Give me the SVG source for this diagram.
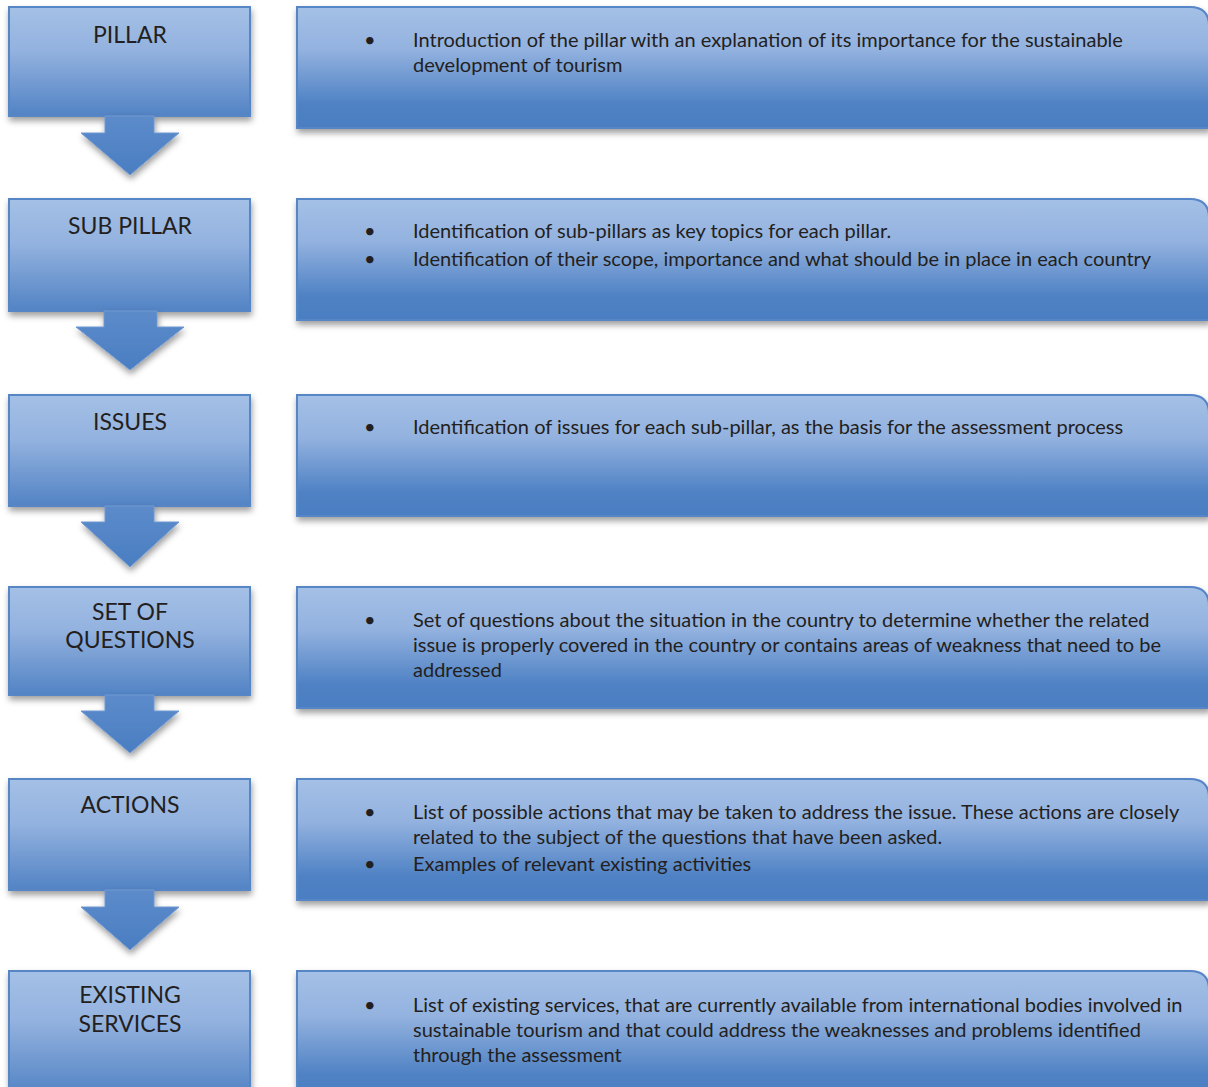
<svg xmlns="http://www.w3.org/2000/svg" width="1208" height="1087" viewBox="0 0 1208 1087">
<defs>
<linearGradient id="gL" x1="0" y1="0" x2="0" y2="1">
<stop offset="0" stop-color="#a4c0e6"/>
<stop offset="0.4" stop-color="#93b2df"/>
<stop offset="1" stop-color="#5283c4"/>
</linearGradient>
<linearGradient id="gR" x1="0" y1="0" x2="0" y2="1">
<stop offset="0" stop-color="#a4c0e6"/>
<stop offset="0.35" stop-color="#93b2df"/>
<stop offset="0.8" stop-color="#4f82c4"/>
<stop offset="1" stop-color="#4a7ec2"/>
</linearGradient>
<linearGradient id="gA" x1="0" y1="0" x2="0" y2="1">
<stop offset="0" stop-color="#5c8bca"/>
<stop offset="1" stop-color="#4a7ec2"/>
</linearGradient>
<filter id="sh" x="-10%" y="-10%" width="130%" height="140%">
<feDropShadow dx="1" dy="4" stdDeviation="3" flood-color="#000" flood-opacity="0.38"/>
</filter>
</defs>
<style>
.lb{fill:url(#gL);stroke:#5686c6;stroke-width:2;filter:url(#sh)}
.rb{fill:url(#gR);stroke:#5686c6;stroke-width:2;filter:url(#sh)}
.ar{fill:url(#gA);stroke:#6f98d1;stroke-width:1;filter:url(#sh)}
.t{font-family:Lato,"Open Sans",sans-serif;fill:#231f20}
.h{font-size:23px;text-anchor:middle}
.b{font-size:20px}
</style>

<g id="node-pillar">
<rect class="lb" x="9" y="7" width="241" height="109"/>
<text class="t h" x="130" y="43">PILLAR</text>
</g>
<g id="node-pillar-desc">
<path class="rb" d="M297 7 H1190 Q1209 7 1209 26 V128 H297 Z"/>
<text class="t b" x="364" y="47">•</text>
<text class="t b" x="413" y="47">Introduction of the pillar with an explanation of its importance for the sustainable</text>
<text class="t b" x="413" y="72">development of tourism</text>
</g>

<g id="node-subpillar">
<rect class="lb" x="9" y="199" width="241" height="112"/>
<text class="t h" x="130" y="234">SUB PILLAR</text>
</g>
<g id="node-subpillar-desc">
<path class="rb" d="M297 199 H1190 Q1209 199 1209 218 V320 H297 Z"/>
<text class="t b" x="364" y="238">•</text>
<text class="t b" x="413" y="238">Identification of sub-pillars as key topics for each pillar.</text>
<text class="t b" x="364" y="266">•</text>
<text class="t b" x="413" y="266">Identification of their scope, importance and what should be in place in each country</text>
</g>

<g id="node-issues">
<rect class="lb" x="9" y="395" width="241" height="111"/>
<text class="t h" x="130" y="430">ISSUES</text>
</g>
<g id="node-issues-desc">
<path class="rb" d="M297 395 H1190 Q1209 395 1209 414 V516 H297 Z"/>
<text class="t b" x="364" y="434">•</text>
<text class="t b" x="413" y="434">Identification of issues for each sub-pillar, as the basis for the assessment process</text>
</g>

<g id="node-questions">
<rect class="lb" x="9" y="587" width="241" height="108"/>
<text class="t h" x="130" y="620">SET OF</text>
<text class="t h" x="130" y="648">QUESTIONS</text>
</g>
<g id="node-questions-desc">
<path class="rb" d="M297 587 H1190 Q1209 587 1209 606 V708 H297 Z"/>
<text class="t b" x="364" y="627">•</text>
<text class="t b" x="413" y="627">Set of questions about the situation in the country to determine whether the related</text>
<text class="t b" x="413" y="652">issue is properly covered in the country or contains areas of weakness that need to be</text>
<text class="t b" x="413" y="677">addressed</text>
</g>

<g id="node-actions">
<rect class="lb" x="9" y="779" width="241" height="111"/>
<text class="t h" x="130" y="813">ACTIONS</text>
</g>
<g id="node-actions-desc">
<path class="rb" d="M297 779 H1190 Q1209 779 1209 798 V900 H297 Z"/>
<text class="t b" x="364" y="819">•</text>
<text class="t b" x="413" y="819">List of possible actions that may be taken to address the issue. These actions are closely</text>
<text class="t b" x="413" y="844">related to the subject of the questions that have been asked.</text>
<text class="t b" x="364" y="871">•</text>
<text class="t b" x="413" y="871">Examples of relevant existing activities</text>
</g>

<g id="node-services">
<rect class="lb" x="9" y="971" width="241" height="125"/>
<text class="t h" x="130" y="1003">EXISTING</text>
<text class="t h" x="130" y="1032">SERVICES</text>
</g>
<g id="node-services-desc">
<path class="rb" d="M297 971 H1190 Q1209 971 1209 990 V1100 H297 Z"/>
<text class="t b" x="364" y="1012">•</text>
<text class="t b" x="413" y="1012">List of existing services, that are currently available from international bodies involved in</text>
<text class="t b" x="413" y="1037">sustainable tourism and that could address the weaknesses and problems identified</text>
<text class="t b" x="413" y="1062">through the assessment</text>
</g>

<g id="connectors">
<path class="ar" d="M105 116 H154 V133 H179 L130 175 L81 133 H105 Z"/>
<path class="ar" d="M104 311 H157 V327 H184 L130 370 L76 327 H104 Z"/>
<path class="ar" d="M105 506 H154 V522 H179 L130 567 L81 522 H105 Z"/>
<path class="ar" d="M105 695 H154 V711 H179 L130 753 L81 711 H105 Z"/>
<path class="ar" d="M105 890 H154 V907 H179 L130 950 L81 907 H105 Z"/>
</g>
</svg>
